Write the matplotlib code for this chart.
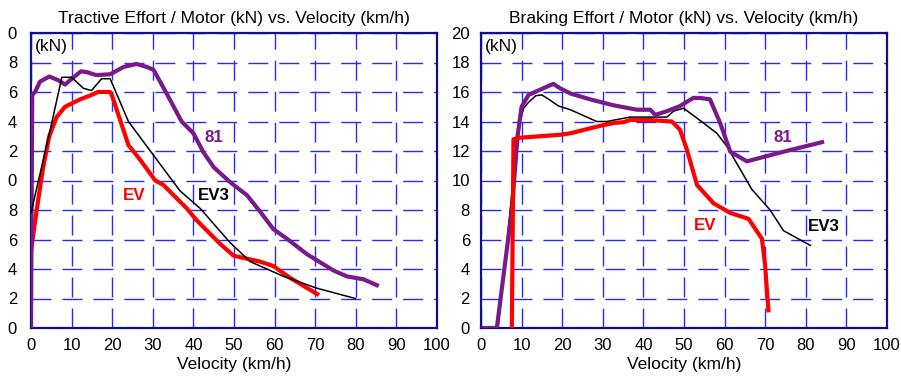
import matplotlib.pyplot as plt

plt.rcParams['font.family'] = ['Liberation Sans', 'DejaVu Sans']

# tractive effort (left)
te_ev_v = [0, 1.4, 3.0, 4.5, 6.3, 8.4, 12.1, 14.9, 16.5, 19.5, 19.9, 24, 26.9, 30.6, 32.6,
           38.4, 40.8, 46.6, 49.9, 53.2, 56.4, 59.7, 63.8, 70.5]
te_ev_f = [5.2, 8.0, 10.9, 13.0, 14.3, 15.0, 15.5, 15.8, 16.0, 16.0, 15.8, 12.4, 11.4, 10.0, 9.7,
           8.1, 7.3, 5.7, 4.9, 4.7, 4.5, 4.2, 3.4, 2.3]
te_ev3_v = [0, 4.7, 7.6, 10.0, 12.9, 14.9, 17.4, 19.5, 24, 30.2, 36.7, 41.7, 49, 54, 62.2, 70.4, 79.9]
te_ev3_f = [7.8, 13.4, 17.0, 17.0, 16.25, 16.1, 16.9, 16.9, 14.0, 11.7, 9.3, 8.1, 5.8, 4.5, 3.5, 2.7, 2.0]
te_81_v = [0, 0.3, 1.0, 2.2, 4.5, 6.7, 8.4, 9.6, 12.3, 13.7, 16.0, 19.5, 22.8, 26, 28.5, 30.2,
           33.4, 37.1, 40, 42.5, 45, 49, 53.2, 56.4, 59.7, 63, 68, 74.5, 77.8, 81.9, 85.2]
te_81_f = [0, 15.8, 16.0, 16.7, 17.05, 16.8, 16.5, 16.8, 17.4, 17.35, 17.15, 17.2, 17.7, 17.9, 17.7, 17.5,
           15.9, 14.0, 13.2, 11.9, 10.9, 9.9, 9.0, 7.9, 6.7, 6.06, 5.0, 3.9, 3.5, 3.3, 2.9]

# braking effort (right)
be_ev_v = [7.6, 8.0, 9.6, 19.5, 22, 28.5, 32.6, 35.1, 36.7, 41.7, 47, 49, 50.7, 53.2, 57.3,
           61.4, 65.9, 69.2, 70, 70.4, 70.8]
be_ev_f = [0, 12.8, 12.9, 13.1, 13.2, 13.65, 13.9, 13.95, 14.1, 14.1, 14.0, 13.45, 12.1, 9.7, 8.45,
           7.8, 7.4, 6.05, 4.2, 2.6, 1.2]
be_ev3_v = [4.2, 8.0, 9.2, 10.5, 11.7, 13.5, 15.0, 17, 19.1, 22, 28.5, 31, 36.7, 45.8, 47.4, 49.9,
            54.8, 58.1, 60.6, 66.7, 71.2, 74.5, 81.1]
be_ev3_f = [0, 10.2, 13.6, 14.9, 15.3, 15.75, 15.8, 15.45, 15.05, 14.8, 14.0, 14.0, 14.3, 14.3, 14.7, 14.9,
            13.9, 13.2, 12.3, 9.4, 8.0, 6.6, 5.6]
be_81_v = [0, 3.9, 7.6, 9.0, 10.0, 11.7, 14.5, 17.8, 19.5, 22, 26.9, 32.6, 38.4, 41.7, 42.9, 45.8,
           49, 52.3, 53.9, 56.4, 57.5, 58.9, 61.4, 65.5, 74.5, 84]
be_81_f = [0, 0, 8.0, 13.0, 15.0, 15.8, 16.15, 16.55, 16.25, 15.9, 15.5, 15.1, 14.8, 14.8, 14.45, 14.7,
           15.05, 15.6, 15.6, 15.5, 14.8, 13.9, 11.95, 11.3, 11.95, 12.6]

x_ticks = list(range(0, 101, 10))
y_ticks = list(range(0, 21, 2))
left_ylabels = ['0', '2', '4', '6', '8', '0', '2', '4', '6', '8', '0']
right_ylabels = [str(t) for t in y_ticks]

purple = '#7a1a8a'
navy = '#10108a'
grid_blue = '#2a2aff'

fig = plt.figure(figsize=(9.01, 3.77), dpi=100)
ax1 = fig.add_axes([31 / 901, 49 / 377, 406 / 901, 295 / 377])
ax2 = fig.add_axes([481 / 901, 49 / 377, 406 / 901, 295 / 377])


def style_axes(ax, title, ylabels, ypad):
    ax.set_xlim(0, 100)
    ax.set_ylim(0, 20)
    ax.set_xticks(x_ticks)
    ax.set_yticks(y_ticks)
    ax.set_yticklabels(ylabels)
    glw = 1.0
    ax.grid(True, color=grid_blue, linewidth=glw, linestyle=(0, (14.4 / glw, 7.9 / glw)))
    ax.set_axisbelow(True)
    for s in ax.spines.values():
        s.set_color(navy)
        s.set_linewidth(1.6)
    ax.tick_params(axis='both', length=0, labelsize=12)
    ax.tick_params(axis='x', pad=7)
    ax.tick_params(axis='y', pad=ypad)
    ax.set_title(title, fontsize=12.6, pad=7)
    ax.set_xlabel('Velocity (km/h)', fontsize=12.5, labelpad=3)
    ax.text(1, 19.6, '(kN)', fontsize=12.5, ha='left', va='top')


style_axes(ax1, 'Tractive Effort / Motor (kN) vs. Velocity (km/h)', left_ylabels, 10)
style_axes(ax2, 'Braking Effort / Motor (kN) vs. Velocity (km/h)', right_ylabels, 8)

ax1.plot(te_ev_v, te_ev_f, color='#ff0000', lw=3, zorder=3)
ax1.plot(te_81_v, te_81_f, color=purple, lw=3, zorder=4)
ax1.plot(te_ev3_v, te_ev3_f, color='black', lw=1.1, zorder=5)
ax1.text(45, 12.9, '81', color=purple, fontsize=12.2, fontweight='bold', ha='center', va='center')
ax1.text(25.4, 9.0, 'EV', color='#ff0000', fontsize=12.2, fontweight='bold', ha='center', va='center')
ax1.text(45, 9.0, 'EV3', color='black', fontsize=12.2, fontweight='bold', ha='center', va='center')

ax2.plot(be_ev3_v, be_ev3_f, color='black', lw=1.1, zorder=3)
ax2.plot(be_81_v, be_81_f, color=purple, lw=3, zorder=4)
ax2.plot(be_ev_v, be_ev_f, color='#ff0000', lw=3, zorder=5)
ax2.text(74.4, 12.9, '81', color=purple, fontsize=12.2, fontweight='bold', ha='center', va='center')
ax2.text(55.3, 6.95, 'EV', color='#ff0000', fontsize=12.2, fontweight='bold', ha='center', va='center')
ax2.text(84.5, 6.9, 'EV3', color='black', fontsize=12.2, fontweight='bold', ha='center', va='center')

fig.savefig('out.png', dpi=100)
